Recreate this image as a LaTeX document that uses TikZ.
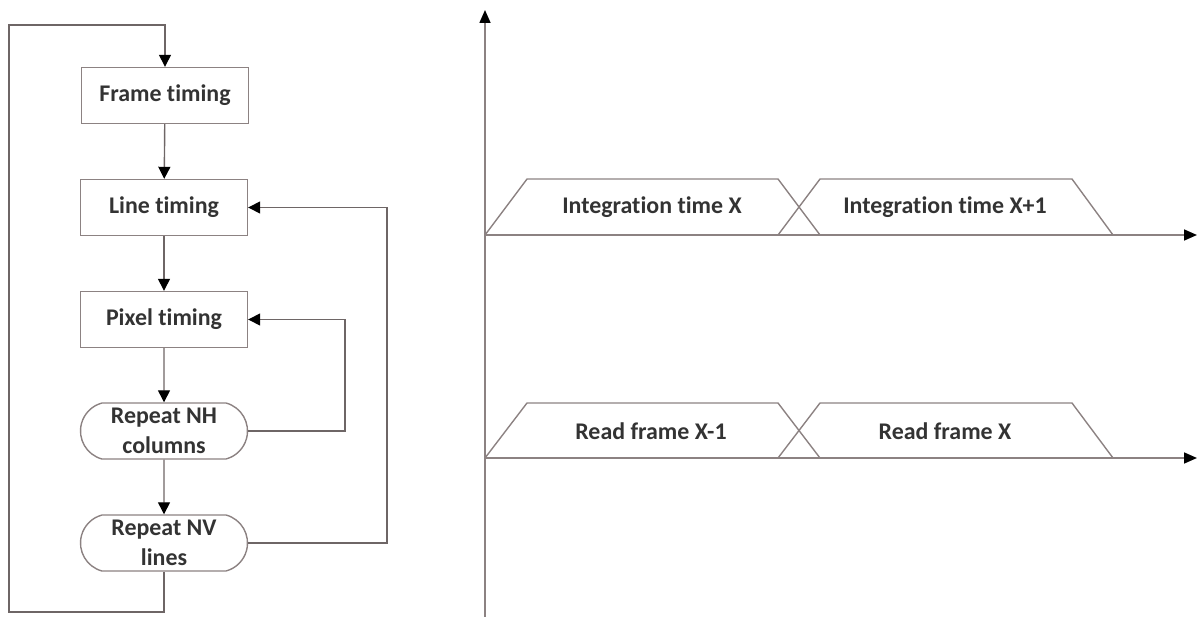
\documentclass[tikz,border=0pt]{standalone}
\usepackage{fontspec}
\setmainfont[Ligatures=NoCommon]{Carlito}
\usetikzlibrary{arrows.meta,shapes.misc}
\definecolor{edge}{HTML}{8C8282}
\definecolor{wire}{HTML}{6E6666}
\definecolor{ink}{HTML}{333333}
\tikzset{
  stepbox/.style={draw=edge, line width=1.4bp, fill=white, minimum width=167bp,
    minimum height=56bp, inner sep=0pt, font=\bfseries\fontsize{24}{30}\selectfont,
    text=ink, align=center},
  loopbox/.style={stepbox, rounded rectangle, rounded rectangle arc length=150},
  flow/.style={draw=wire, line width=1.4bp,
    -{Triangle[length=12bp,width=12bp,color=black,fill=black]}},
  axis/.style={draw=edge, line width=1.6bp,
    -{Triangle[length=13bp,width=11bp,color=black,fill=black]}},
  slot/.style={draw=edge, line width=1.4bp},
  slotlabel/.style={font=\bfseries\fontsize{24}{28}\selectfont, text=ink}
}
\begin{document}
\begin{tikzpicture}[x=1bp,y=-1bp]
\useasboundingbox (0,0) rectangle (1197,617);

% ---- control flow ----
\node[stepbox] (frame) at (165,95.5) {Frame timing};
\node[stepbox] (line)  at (164,207.5) {Line timing};
\node[stepbox] (pixel) at (164,319.5) {Pixel timing};
\node[loopbox] (nh)    at (164,431) {Repeat NH\\columns};
\node[loopbox] (nv)    at (164,543) {Repeat NV\\lines};

\draw[flow] (frame) -- (line);
\draw[flow] (line) -- (pixel);
\draw[flow] (pixel) -- (nh);
\draw[flow] (nh) -- (nv);

\coordinate (pr) at (345,431);
\coordinate (lr) at (387,543);
\coordinate (bl) at (9,612);
\coordinate (tl) at (9,25);

\draw[flow] (nh.east) -- (pr) |- (pixel.east);
\draw[flow] (nv.east) -- (lr) |- (line.east);
\draw[flow] (nv.south) |- (bl) -- (tl) -| (frame.north);

% ---- timing chart ----
\draw[axis] (485,617) -- (485,10);
\draw[axis] (485,235) -- (1197,235);
\draw[axis] (485,458) -- (1197,458);

% integration windows
\draw[slot] (485,235) -- (527,179) -- (778,179) -- (820,235);
\draw[slot] (778,235) -- (820,179) -- (1072,179) -- (1113,235);
\node[slotlabel] (intx)  at (652,207) {Integration time X};
\node[slotlabel] (intx1) at (945,207) {Integration time X+1};

% readout windows
\draw[slot] (485,458) -- (527,403) -- (778,403) -- (820,458);
\draw[slot] (778,458) -- (820,403) -- (1072,403) -- (1113,458);
\node[slotlabel] (rdx0) at (651,431) {Read frame X-1};
\node[slotlabel] (rdx1) at (945,431) {Read frame X};
\end{tikzpicture}
\end{document}
